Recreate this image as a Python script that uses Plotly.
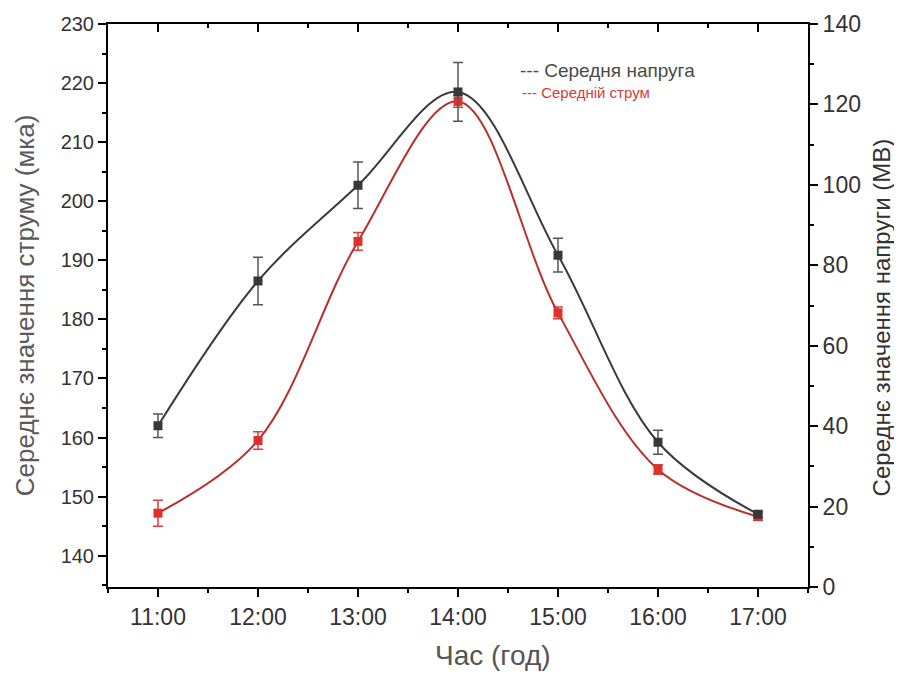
import plotly.graph_objects as go

hours = ["11:00", "12:00", "13:00", "14:00", "15:00", "16:00", "17:00"]
voltage_mv = [40.1, 76.1, 99.9, 123.1, 82.5, 36.0, 18.1]
voltage_err = [2.9, 5.9, 5.8, 7.3, 4.2, 3.0, 0.8]
current_mka = [147.2, 159.5, 193.2, 216.9, 181.1, 154.6, 146.6]
current_err = [2.2, 1.5, 1.5, 1.0, 1.0, 0.8, 0.6]

legend_voltage = "--- Середня напруга"
legend_current = "--- Середній струм"
x_title = "Час (год)"
y_left_title = "Середнє значення струму (мка)"
y_right_title = "Середнє значення напруги (МВ)"

idx = list(range(len(hours)))
half = [i + 0.5 for i in range(-1, len(hours))]
FONT = "Liberation Sans, Arial, sans-serif"

fig = go.Figure()

fig.add_trace(go.Scatter(
    x=idx, y=current_mka, mode="lines+markers",
    line=dict(color="#b8302c", width=2, shape="spline", smoothing=1.0),
    marker=dict(symbol="square", size=9, color="#e0302c"),
    error_y=dict(type="data", array=current_err, color="#d84040", thickness=1.5, width=5),
    showlegend=False, hoverinfo="skip", yaxis="y", xaxis="x"))

fig.add_trace(go.Scatter(
    x=idx, y=voltage_mv, mode="lines+markers",
    line=dict(color="#3a3a3a", width=2, shape="spline", smoothing=1.0),
    marker=dict(symbol="square", size=9, color="#383838"),
    error_y=dict(type="data", array=voltage_err, color="#555555", thickness=1.5, width=5),
    showlegend=False, hoverinfo="skip", yaxis="y2", xaxis="x"))

# invisible trace to bring the top (mirror) axis to life
fig.add_trace(go.Scatter(x=idx, y=[None] * len(idx), xaxis="x2", yaxis="y",
                         showlegend=False, hoverinfo="skip"))

axis_common = dict(showline=True, linewidth=2, linecolor="black", showgrid=False,
                   zeroline=False, tickcolor="black", tickwidth=2, automargin=False)

fig.update_layout(
    width=902, height=678,
    margin=dict(l=100, r=102, t=16, b=99),
    paper_bgcolor="white", plot_bgcolor="white",
    font=dict(family=FONT, color="#333333"),
    xaxis=dict(**axis_common, range=[-0.5, len(hours) - 0.5], tickmode="array",
               tickvals=idx, ticktext=hours, ticks="outside", ticklen=8,
               tickfont=dict(size=23, color="#333333"),
               minor=dict(tickmode="array", tickvals=half, ticks="outside",
                          ticklen=4, tickwidth=2, tickcolor="black")),
    xaxis2=dict(**axis_common, overlaying="x", side="top", anchor="y",
                range=[-0.5, len(hours) - 0.5], tickmode="array", tickvals=idx,
                ticks="inside", ticklen=8, showticklabels=False,
                minor=dict(tickmode="array", tickvals=half, ticks="inside",
                           ticklen=4, tickwidth=2, tickcolor="black")),
    yaxis=dict(**axis_common, range=[134.7, 230], tick0=0, dtick=10,
               ticks="outside", ticklen=8, tickfont=dict(size=20, color="#333333"),
               minor=dict(tick0=0, dtick=5, ticks="outside", ticklen=4,
                          tickwidth=2, tickcolor="black")),
    yaxis2=dict(**axis_common, overlaying="y", side="right", anchor="x",
                range=[0, 140], tick0=0, dtick=20, ticks="outside", ticklen=8,
                tickfont=dict(size=23, color="#333333"),
                minor=dict(tick0=0, dtick=10, ticks="outside", ticklen=4,
                           tickwidth=2, tickcolor="black")),
    annotations=[
        dict(text=legend_voltage, xref="paper", yref="paper", x=0.586, y=0.918,
             xanchor="left", yanchor="middle", showarrow=False,
             font=dict(size=19, color="#4a4a4a", family=FONT)),
        dict(text=legend_current, xref="paper", yref="paper", x=0.589, y=0.879,
             xanchor="left", yanchor="middle", showarrow=False,
             font=dict(size=15, color="#d83a3a", family=FONT)),
        dict(text=y_left_title, xref="paper", yref="paper", x=-0.119, y=0.50,
             xanchor="center", yanchor="middle", textangle=-90, showarrow=False,
             font=dict(size=26, color="#5a5a5a", family=FONT)),
        dict(text=y_right_title, xref="paper", yref="paper", x=1.105, y=0.478,
             xanchor="center", yanchor="middle", textangle=-90, showarrow=False,
             font=dict(size=24, color="#333333", family=FONT)),
        dict(text=x_title, xref="paper", yref="paper", x=0.55, y=-0.122,
             xanchor="center", yanchor="middle", showarrow=False,
             font=dict(size=28, color="#555555", family=FONT)),
    ],
)

fig.write_html("out.html")
